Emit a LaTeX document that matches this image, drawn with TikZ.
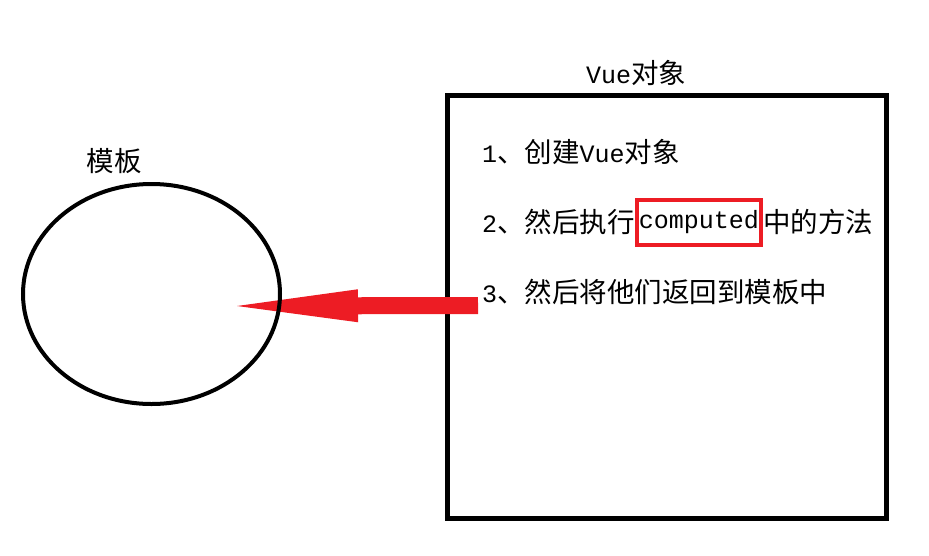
\documentclass[tikz,border=0pt]{standalone}
\usepackage{fontspec}
\setmainfont{Noto Sans CJK SC}
\newfontfamily\latinmono{Liberation Mono}
\usetikzlibrary{positioning,shapes.geometric,arrows.meta}
\definecolor{markred}{HTML}{ED1C24}
\newcommand{\mono}[1]{{\latinmono\fontsize{25pt}{25pt}\selectfont #1}}
\tikzset{
	txt/.style={inner sep=0pt, font=\fontsize{27.5pt}{27.5pt}\selectfont},
	step line/.style={txt, anchor=west},
	hlbox/.style={txt, draw=markred, line width=4pt, inner xsep=2pt, minimum height=45pt},
	bigarrow/.style={markred, line width=17pt, -{Triangle[length=121pt,width=33pt,line width=0pt]}}
}
\begin{document}
\begin{tikzpicture}[x=1pt, y=-1pt, line join=miter]
	\useasboundingbox (0,0) rectangle (929,555);
	% vue object box
	\node[draw, line width=5pt, minimum width=439pt, minimum height=423pt] (vue) at (667,307) {};
	\node[txt] (vuelabel) at (636,73) {\mono{Vue}对象};
	\node[step line] (s1) at (482,152) {\mono{1}、创建\mono{Vue}对象};
	\node[step line] (s2) at (482,222) {\mono{2}、然后执行};
	\node[hlbox, right=0pt of s2] (cmp) {\mono{computed}};
	\node[txt, right=0pt of cmp] (s2b) {中的方法};
	\node[step line] (s3) at (482,292) {\mono{3}、然后将他们返回到模板中};
	% return arrow
	\coordinate (arrstart) at (478,305.5);
	\coordinate (arrend) at (237,306);
	\draw[bigarrow] (arrstart) -- (arrend);
	% template ellipse
	\node[draw, line width=4pt, ellipse, minimum width=257pt, minimum height=220pt] (tpl) at (151.5,294) {};
	\node[txt] (tpllabel) at (114,161) {模板};
\end{tikzpicture}
\end{document}
